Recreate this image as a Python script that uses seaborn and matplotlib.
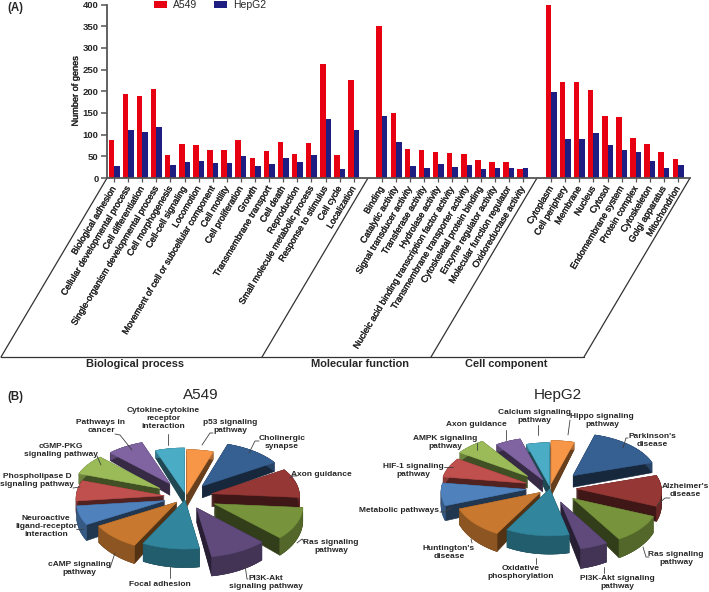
import numpy as np
import pandas as pd
import seaborn as sns
import matplotlib
matplotlib.use("Agg")
from matplotlib import pyplot as plt
from matplotlib import patheffects
from matplotlib.colors import to_rgb

# ---------------------------------------------------
bio_terms = ["Biological adhesion", "Cellular developmental process", "Cell differentiation",
             "Single-organism developmental process", "Cell morphogenesis", "Cell-cell signaling",
             "Locomotion", "Movement of cell or subcellular component", "Cell motility",
             "Cell proliferation", "Growth", "Transmembrane transport", "Cell death", "Reproduction",
             "Small molecule metabolic process", "Response to stimulus", "Cell cycle", "Localization"]
bio_a549 = [87, 194, 189, 206, 54, 79, 75, 65, 65, 88, 46, 63, 83, 55, 81, 263, 54, 225]
bio_hepg2 = [27, 110, 106, 117, 31, 38, 40, 35, 35, 50, 27, 33, 46, 37, 54, 137, 20, 110]

mol_terms = ["Binding", "Catalytic activity", "Signal transducer activity", "Transferase activity",
             "Hydrolase activity", "Nucleic acid binding transcription factor activity",
             "Transmembrane transporter activity", "Cytoskeletal protein binding",
             "Enzyme regulator activity", "Molecular function regulator", "Oxidoreductase activity"]
mol_a549 = [350, 151, 67, 64, 60, 58, 55, 41, 38, 38, 21]
mol_hepg2 = [143, 83, 27, 22, 32, 25, 29, 20, 24, 23, 24]

cell_terms = ["Cytoplasm", "Cell periphery", "Membrane", "Nucleus", "Cytosol", "Endomembrane system",
              "Protein complex", "Cytoskeleton", "Golgi apparatus", "Mitochondrion"]
cell_a549 = [400, 222, 221, 203, 143, 141, 93, 79, 59, 44]
cell_hepg2 = [198, 91, 91, 104, 77, 64, 60, 39, 24, 31]

# pie slices, clockwise from 12 o'clock
pie_a549_names = ["p53 signaling\npathway", "Cholinergic\nsynapse", "Axon guidance", "Ras signaling\npathway",
                  "PI3K-Akt\nsignaling pathway", "Focal adhesion", "cAMP signaling\npathway",
                  "Neuroactive\nligand-receptor\ninteraction", "Phospholipase D\nsignaling pathway",
                  "cGMP-PKG\nsignaling pathway", "Pathways in\ncancer", "Cytokine-cytokine\nreceptor\ninteraction"]
pie_a549_values = [5, 11, 10, 11, 10, 10, 9, 6.5, 7, 7, 7, 5.5]
pie_hepg2_names = ["Hippo signaling\npathway", "Parkinson's\ndisease", "Alzheimer's\ndisease", "Ras signaling\npathway",
                   "PI3K-Akt signaling\npathway", "Oxidative\nphosphorylation", "Huntington's\ndisease",
                   "Metabolic pathways", "HIF-1 signaling\npathway", "AMPK signaling\npathway",
                   "Axon guidance", "Calcium signaling\npathway"]
pie_hepg2_values = [4.5, 15.5, 11, 10, 5, 11.5, 11, 8, 7, 6, 5, 4.5]
pie_colors = ["#F79646", "#376092", "#953735", "#77933C", "#604A7B", "#31859C",
              "#C8792F", "#4F81BD", "#C0504D", "#9BBB59", "#8064A2", "#4BACC6"]
a549_explode = [0.06, 0.3, 0.3, 0.35, 0.26, 0.07, 0.15, 0.25, 0.25, 0.35, 0.34, 0.1]
hepg2_explode = [0.1, 0.39, 0.31, 0.35, 0.33, 0.02, 0.15, 0.28, 0.3, 0.37, 0.2, 0.05]

# label centres and leader lines, in picture pixels
a549_label_xy = [(230, 426), (282, 443), (321, 474), (331, 546), (266, 583), (160, 584),
                 (79, 568), (46, 527), (37, 480), (61, 451), (101, 427), (163, 419)]
a549_leaders = [[(202, 445), (210, 433), (213, 433)], [(249, 453), (255, 441), (259, 441)],
                [(290, 478), (293, 476), (297, 476)], [(297, 543), (302, 539), (305, 543)],
                [(245, 565), (247, 579), (248, 579)], [(170, 567), (170, 578)],
                [(115, 553), (110, 568)], [(76, 529), (83, 529)], [(73, 488), (80, 487)],
                [(97, 456), (101, 465)], [(115, 434), (120, 435), (132, 450)], [(168, 434), (168, 445)]]
hepg2_label_xy = [(602, 421), (652, 441), (685, 491), (676, 558), (617, 582), (521, 573),
                  (449, 553), (399, 511), (413, 471), (445, 443), (476, 425), (534, 416)]
hepg2_leaders = [[(568, 435), (570, 420)], [(623, 448), (626, 438), (628, 438)],
                 [(657, 505), (665, 498), (670, 498)], [(643, 547), (646, 557), (649, 557)],
                 [(604, 567), (604, 573)], [(536, 558), (536, 564)], [(471, 539), (472, 543)],
                 [(440, 512), (445, 512), (452, 507)], [(444, 467), (453, 467)],
                 [(477, 443), (477, 450)], [(506, 430), (506, 440)], [(538, 425), (538, 435)]]

TEXT = "#262626"
FONT = ["Liberation Sans", "DejaVu Sans"]


# ---------------------------------------------------
def shade(color, factor):
    return tuple(c * factor for c in to_rgb(color))


def draw_pie(ax, values, explode, cx, cy, radius, squash, persp, depth):
    edges = 2 * np.pi * np.cumsum([0] + values) / sum(values)
    slices = []
    for i in range(len(values)):
        mid = (edges[i] + edges[i + 1]) / 2
        arc = np.linspace(edges[i], edges[i + 1], 40)
        xs = np.r_[0, np.sin(arc)] + explode[i] * np.sin(mid)
        ys = np.r_[0, np.cos(arc)] + explode[i] * np.cos(mid)
        slices.append((np.cos(mid), i, xs, ys))

    def project(xs, ys, z=0.0):
        s = 1 - persp * ys
        return cx + radius * xs * s, cy - radius * squash * ys * s + z * (1 - 0.4 * ys)

    # back slices first, so the front ones cover them
    for _, i, xs, ys in sorted(slices, key=lambda t: -t[0]):
        col = pie_colors[i]
        for z in np.linspace(depth, 0, 14):
            px, py = project(xs, ys, z)
            ax.fill(px, py, color=shade(col, 0.42), lw=0.4)
        top_x, top_y = project(xs, ys)
        low_x, low_y = project(xs, ys, depth)
        ax.fill(np.r_[top_x[1:], low_x[1:][::-1]], np.r_[top_y[1:], low_y[1:][::-1]],
                color=shade(col, 0.7), lw=0.4)
        ax.fill(top_x, top_y, color=col, lw=0.4)


def put_labels(ax, names, label_xy, leaders):
    for name, (x, y), leader in zip(names, label_xy, leaders):
        ax.text(x, y, name, ha="center", va="center", fontsize=6.0, fontweight="bold",
                color=TEXT, family=FONT, linespacing=1.2)
        ax.plot(*zip(*leader), color="#404040", lw=0.6)


# ---------------------------------------------------
sns.set_style("ticks")
plt.rcParams["font.family"] = FONT

gap_one, gap_two = " ", "  "
order = bio_terms + [gap_one] + mol_terms + [gap_two] + cell_terms
terms = bio_terms + mol_terms + cell_terms
genes = pd.DataFrame({
    "term": terms * 2,
    "count": bio_a549 + mol_a549 + cell_a549 + bio_hepg2 + mol_hepg2 + cell_hepg2,
    "line": ["A549"] * len(terms) + ["HepG2"] * len(terms),
})

fig = plt.figure(figsize=(7.09, 5.92), dpi=100)
bar_ax = fig.add_axes([107 / 709, 1 - 178 / 592, 583 / 709, 173.5 / 592])

sns.barplot(data=genes, x="term", y="count", hue="line", order=order,
            palette={"A549": "#E60012", "HepG2": "#1D1D82"}, width=0.78, saturation=1,
            linewidth=0, ax=bar_ax)

ticks = [i for i, name in enumerate(order) if name.strip()]
bar_ax.set_xticks(ticks)
bar_ax.set_xticklabels([order[i] for i in ticks], rotation=59, ha="right", va="center",
                       rotation_mode="anchor", fontsize=6.5, color=TEXT)
thick = [patheffects.withStroke(linewidth=0.25, foreground=TEXT)]
for label in bar_ax.get_xticklabels():
    label.set_path_effects(thick)
bar_ax.set_xlim(-0.5, 40.85)
bar_ax.set_ylim(0, 400)
bar_ax.set_yticks(range(0, 401, 50))
bar_ax.tick_params(axis="y", labelsize=6.8, length=4, width=1.1, color="#555555", labelcolor=TEXT, pad=2)
bar_ax.tick_params(axis="x", length=3, width=0.9, color="#555555", pad=3.5)
for label in bar_ax.get_yticklabels():
    label.set_fontweight("bold")
bar_ax.set_xlabel("")
bar_ax.set_ylabel("Number of genes", fontsize=6.6, color=TEXT, labelpad=2, path_effects=thick)
sns.despine(ax=bar_ax)
bar_ax.spines[["left", "bottom"]].set_color("#555555")
bar_ax.spines[["left", "bottom"]].set_linewidth(1.3)
bar_ax.legend(loc="upper left", bbox_to_anchor=(0.08, 1.026), ncol=2, frameon=False, fontsize=7.5,
              borderpad=0, borderaxespad=0, handlelength=1.25, handleheight=0.6, handletextpad=0.6,
              columnspacing=1.6, labelcolor=TEXT)

# ---------------------------------------------------
# everything else is laid out in picture pixels
page = fig.add_axes([0, 0, 1, 1], zorder=-1)
page.set_xlim(0, 709)
page.set_ylim(592, 0)
page.axis("off")

line_kw = dict(color="#333333", lw=0.9)
page.plot([1, 584], [357, 357], **line_kw)
for top_x, low_x in [(107, 1), (368, 262), (537, 431), (690, 584)]:
    page.plot([top_x, low_x], [178, 357], **line_kw)

for x, name in [(135, "Biological process"), (360, "Molecular function"), (506, "Cell component")]:
    page.text(x, 364, name, ha="center", va="center", fontsize=7.9, fontweight="bold", color=TEXT)
page.text(7, 8, "(A)", ha="left", va="center", fontsize=8.3, fontweight="bold", color=TEXT)
page.text(7, 397, "(B)", ha="left", va="center", fontsize=8.3, fontweight="bold", color=TEXT)
page.text(201, 395, "A549", ha="center", va="center", fontsize=11, color=TEXT)
page.text(558, 395, "HepG2", ha="center", va="center", fontsize=11, color=TEXT)

draw_pie(page, pie_a549_values, a549_explode, 186, 497, 88, 0.53, 0.04, 13)
draw_pie(page, pie_hepg2_values, hepg2_explode, 550, 488, 85, 0.53, 0.04, 13)
put_labels(page, pie_a549_names, a549_label_xy, a549_leaders)
put_labels(page, pie_hepg2_names, hepg2_label_xy, hepg2_leaders)

fig.savefig("out.png", dpi=100)
